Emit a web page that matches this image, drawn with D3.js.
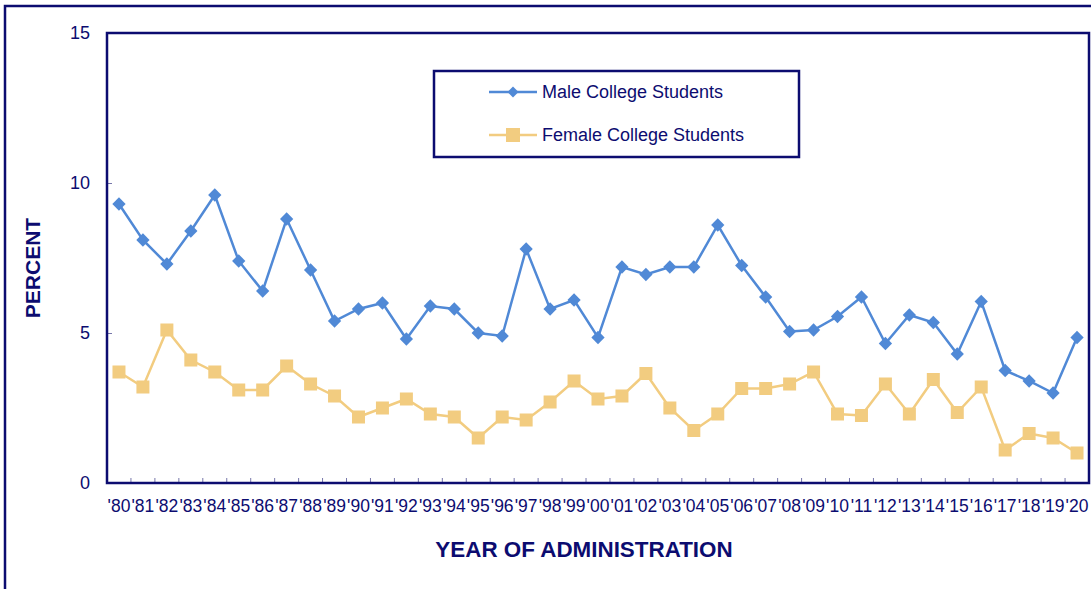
<!DOCTYPE html>
<html>
<head>
<meta charset="utf-8">
<script src="https://cdn.jsdelivr.net/npm/d3@7"></script>
<style>
  html, body { margin: 0; padding: 0; background: #fff; }
  svg { display: block; font-family: "Liberation Sans", Arial, sans-serif; }
</style>
</head>
<body>
<svg id="chart" width="1091" height="589"></svg>
<script>
const years = ["'80","'81","'82","'83","'84","'85","'86","'87","'88","'89","'90","'91","'92","'93","'94","'95","'96","'97","'98","'99","'00","'01","'02","'03","'04","'05","'06","'07","'08","'09","'10","'11","'12","'13","'14","'15","'16","'17","'18","'19","'20"];
const maleValues = [9.3,8.1,7.3,8.4,9.6,7.4,6.4,8.8,7.1,5.4,5.8,6.0,4.8,5.9,5.8,5.0,4.9,7.8,5.8,6.1,4.85,7.2,6.95,7.2,7.2,8.6,7.25,6.2,5.05,5.1,5.55,6.2,4.65,5.6,5.35,4.3,6.05,3.75,3.4,3.0,4.85];
const femaleValues = [3.7,3.2,5.1,4.1,3.7,3.1,3.1,3.9,3.3,2.9,2.2,2.5,2.8,2.3,2.2,1.5,2.2,2.1,2.7,3.4,2.8,2.9,3.65,2.5,1.75,2.3,3.15,3.15,3.3,3.7,2.3,2.25,3.3,2.3,3.45,2.35,3.2,1.1,1.65,1.5,1.0];
const yTicks = [0,5,10,15];
const seriesNames = ["Male College Students","Female College Students"];

const navy = "#0c0c70";
const blue = "#5089d6";
const gold = "#f2cc80";

const svg = d3.select("#chart");
const L = 107, R = 1089, T = 33, B = 483;

// outer frame
svg.append("rect").attr("x",5).attr("y",6).attr("width",1200).attr("height",700)
  .attr("fill","none").attr("stroke",navy).attr("stroke-width",2.5);

const x = d3.scaleBand().domain(years).range([L,R]).paddingInner(0).paddingOuter(0);
const y = d3.scaleLinear().domain([0,15]).range([B,T]);
const cx = d => x(d) + x.bandwidth()/2;

// y axis
const yAxis = svg.append("g").attr("transform",`translate(${L},0)`)
  .call(d3.axisLeft(y).tickValues(yTicks).tickSizeInner(-5).tickSizeOuter(0).tickPadding(17));
yAxis.select(".domain").remove();
yAxis.selectAll("line").attr("stroke","#7777aa").attr("stroke-width",1);
yAxis.selectAll("text").attr("fill",navy).style("font-size","18px").style("font-family","Liberation Sans, Arial, sans-serif");

// x axis labels
const xAxis = svg.append("g").attr("transform",`translate(0,${B})`)
  .call(d3.axisBottom(x).tickSize(0).tickPadding(16.5));
xAxis.select(".domain").remove();
xAxis.selectAll("text").attr("fill",navy).style("font-size","17.5px").style("font-family","Liberation Sans, Arial, sans-serif");

// x boundary ticks (inner)
svg.append("g").selectAll("line").data(years.slice(1)).join("line")
  .attr("x1",d=>x(d)).attr("x2",d=>x(d)).attr("y1",B).attr("y2",B-5)
  .attr("stroke","#7777aa").attr("stroke-width",1);

// plot border
svg.append("rect").attr("x",L).attr("y",T).attr("width",R-L).attr("height",B-T)
  .attr("fill","none").attr("stroke",navy).attr("stroke-width",2.5);

const line = d3.line().x((d,i)=>cx(years[i])).y(d=>y(d));

// female series
svg.append("path").datum(femaleValues).attr("d",line).attr("fill","none")
  .attr("stroke",gold).attr("stroke-width",2.5);
svg.append("g").selectAll("rect").data(femaleValues).join("rect")
  .attr("x",(d,i)=>cx(years[i])-6.5).attr("y",d=>y(d)-6.5).attr("width",13).attr("height",13)
  .attr("fill",gold);

// male series
svg.append("path").datum(maleValues).attr("d",line).attr("fill","none")
  .attr("stroke",blue).attr("stroke-width",2.5);
const diamondPath = d3.symbol().type(d3.symbolSquare).size(88)();
svg.append("g").selectAll("path").data(maleValues).join("path")
  .attr("d",diamondPath)
  .attr("transform",(d,i)=>`translate(${cx(years[i])},${y(d)}) rotate(45)`)
  .attr("fill",blue);

// legend
svg.append("rect").attr("x",434).attr("y",71).attr("width",365).attr("height",86)
  .attr("fill","#fff").attr("stroke",navy).attr("stroke-width",2.5);
const legY = [92,135];
const lg = svg.append("g");
lg.append("line").attr("x1",489).attr("x2",537).attr("y1",legY[0]).attr("y2",legY[0]).attr("stroke",blue).attr("stroke-width",2.5);
lg.append("path").attr("d",d3.symbol().type(d3.symbolSquare).size(60)()).attr("transform",`translate(513,${legY[0]}) rotate(45)`).attr("fill",blue);
lg.append("line").attr("x1",489).attr("x2",537).attr("y1",legY[1]).attr("y2",legY[1]).attr("stroke",gold).attr("stroke-width",2.5);
lg.append("rect").attr("x",506).attr("y",legY[1]-7).attr("width",14).attr("height",14).attr("fill",gold);
lg.selectAll("text").data(seriesNames).join("text")
  .attr("x",542).attr("y",(d,i)=>legY[i]).attr("dy","0.35em")
  .attr("fill",navy).style("font-size","18px").text(d=>d);

// axis titles
svg.append("text").attr("transform","translate(40,268) rotate(-90)")
  .attr("text-anchor","middle").attr("fill",navy)
  .style("font-size","21px").style("font-weight","bold").text("PERCENT");
svg.append("text").attr("x",584).attr("y",557).attr("text-anchor","middle").attr("fill",navy)
  .style("font-size","22.4px").style("font-weight","bold").text("YEAR OF ADMINISTRATION");
</script>
</body>
</html>
